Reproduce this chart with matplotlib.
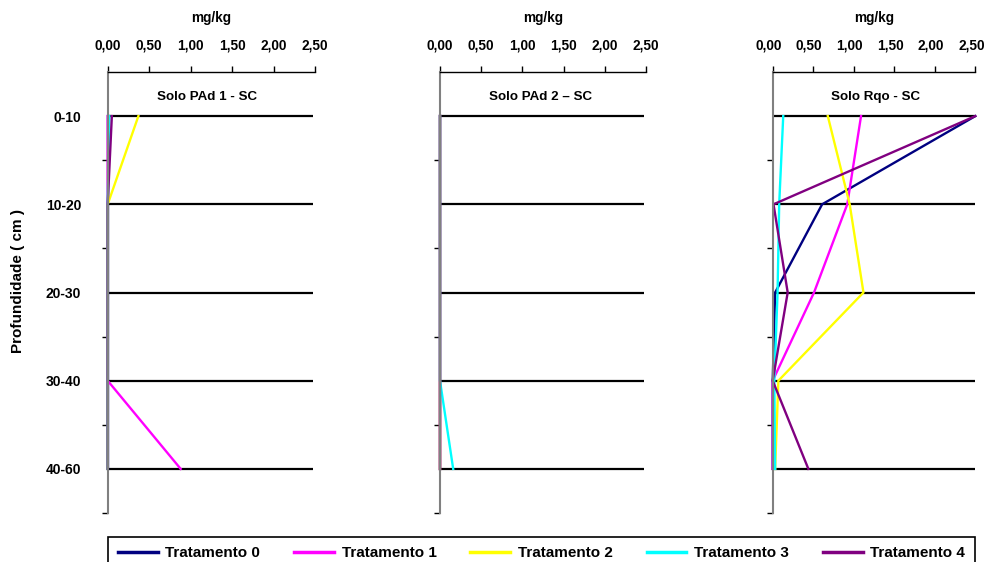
import matplotlib
matplotlib.use("Agg")
import matplotlib.pyplot as plt
import matplotlib.transforms as mtransforms
from matplotlib.ticker import FixedLocator, FuncFormatter

plt.rcParams['font.family'] = ['Liberation Sans', 'DejaVu Sans']
plt.rcParams['font.weight'] = 'bold'

depths = ['0-10', '10-20', '20-30', '30-40', '40-60']
treatments = ['Tratamento 0', 'Tratamento 1', 'Tratamento 2', 'Tratamento 3', 'Tratamento 4']
colors = ['#000080', '#FF00FF', '#FFFF00', '#00FFFF', '#800080']
x_ticks = [0.0, 0.5, 1.0, 1.5, 2.0, 2.5]

titles = ['Solo PAd 1 - SC', 'Solo PAd 2 \u2013 SC', 'Solo Rqo - SC']

# Panel 1: Solo PAd 1 - SC
pad1_t0 = [0.00, 0.00, 0.00, 0.00, 0.00]
pad1_t1 = [0.00, 0.00, 0.00, 0.00, 0.88]
pad1_t2 = [0.37, 0.00, 0.00, 0.00, 0.00]
pad1_t3 = [0.02, 0.00, 0.00, 0.00, 0.00]
pad1_t4 = [0.05, 0.00, 0.00, 0.00, 0.00]

# Panel 2: Solo PAd 2 - SC
pad2_t0 = [0.00, 0.00, 0.00, 0.00, 0.00]
pad2_t1 = [0.00, 0.00, 0.00, 0.00, 0.00]
pad2_t2 = [0.00, 0.00, 0.00, 0.00, 0.00]
pad2_t3 = [0.00, 0.00, 0.00, 0.00, 0.16]
pad2_t4 = [0.00, 0.00, 0.00, 0.00, 0.00]

# Panel 3: Solo Rqo - SC
rqo_t0 = [2.50, 0.61, 0.03, 0.00, 0.00]
rqo_t1 = [1.09, 0.92, 0.51, 0.00, 0.00]
rqo_t2 = [0.68, 0.95, 1.12, 0.07, 0.03]
rqo_t3 = [0.13, 0.08, 0.06, 0.02, 0.03]
rqo_t4 = [2.50, 0.01, 0.185, 0.00, 0.44]

panels = [
    [pad1_t0, pad1_t1, pad1_t2, pad1_t3, pad1_t4],
    [pad2_t0, pad2_t1, pad2_t2, pad2_t3, pad2_t4],
    [rqo_t0, rqo_t1, rqo_t2, rqo_t3, rqo_t4],
]

W, H = 985, 562
fig = plt.figure(figsize=(W / 100, H / 100), dpi=100)

lefts = [107.7, 440.0, 772.7]
widths = [207.3, 206.0, 202.6]
top_px, bot_px = 72, 513
title_x = [0.48, 0.49, 0.51]
label_shift_px = [0, 0, -4]

ypos = list(range(len(depths)))
handles = None
for i, (series, title) in enumerate(zip(panels, titles)):
    ax = fig.add_axes([lefts[i] / W, 1 - bot_px / H, widths[i] / W, (bot_px - top_px) / H])
    ax.hlines(ypos, 0, 2.47 if i < 2 else 2.5, colors='black', linewidth=1.6, zorder=1)
    hs = []
    for s, c, lab in zip(series, colors, treatments):
        h, = ax.plot(s, ypos, color=c, linewidth=1.7, label=lab, zorder=2, clip_on=False)
        hs.append(h)
    if handles is None:
        handles = hs
    ax.set_xlim(0, 2.5)
    ax.set_ylim(len(depths) - 0.5, -0.5)
    ax.xaxis.tick_top()
    ax.xaxis.set_label_position('top')
    ax.set_xticks(x_ticks)
    ax.xaxis.set_major_formatter(FuncFormatter(lambda v, p: f"{v:.2f}".replace('.', ',')))
    ax.tick_params(axis='x', direction='out', length=4, width=1, pad=10, labelsize=9.8, colors='black')
    ax.set_xlabel('mg/kg', fontsize=9.8, fontweight='bold', labelpad=12)
    if label_shift_px[i]:
        off = mtransforms.ScaledTranslation(label_shift_px[i] / 100, 0, fig.dpi_scale_trans)
        for lbl in ax.get_xticklabels():
            lbl.set_transform(lbl.get_transform() + off)
    ax.yaxis.set_major_locator(FixedLocator(ypos))
    ax.yaxis.set_minor_locator(FixedLocator([p + 0.5 for p in ypos]))
    if i == 0:
        ax.set_yticklabels(depths)
    else:
        ax.set_yticklabels([])
    ax.tick_params(axis='y', which='major', length=0, pad=19, labelsize=10)
    ax.tick_params(axis='y', which='minor', length=4, width=1, direction='out', color='black')
    for sp in ['right', 'bottom']:
        ax.spines[sp].set_visible(False)
    ax.spines['left'].set_color('#808080')
    ax.spines['left'].set_linewidth(1.5)
    ax.spines['top'].set_color('black')
    ax.spines['top'].set_linewidth(1.0)
    ax.text(title_x[i], 0.943, title, transform=ax.transAxes, ha='center', va='center',
            fontsize=9.6, fontweight='bold')

fig.text(18 / W, 0.5, 'Profundidade ( cm )', rotation=90, ha='center', va='center',
         fontsize=11, fontweight='bold')

leg = fig.legend(handles=handles, labels=treatments, loc='upper left', ncol=5, mode='expand',
                 bbox_to_anchor=(108 / W, 0, 867 / W, 1 - 536.5 / H), frameon=True, fancybox=False,
                 edgecolor='black', framealpha=1, fontsize=11, handlelength=2.6,
                 handletextpad=0.5, borderaxespad=0.0, borderpad=0.65)
leg.get_frame().set_linewidth(1.2)
for ln in leg.get_lines():
    ln.set_linewidth(2.5)

fig.savefig('out.png', dpi=100)
